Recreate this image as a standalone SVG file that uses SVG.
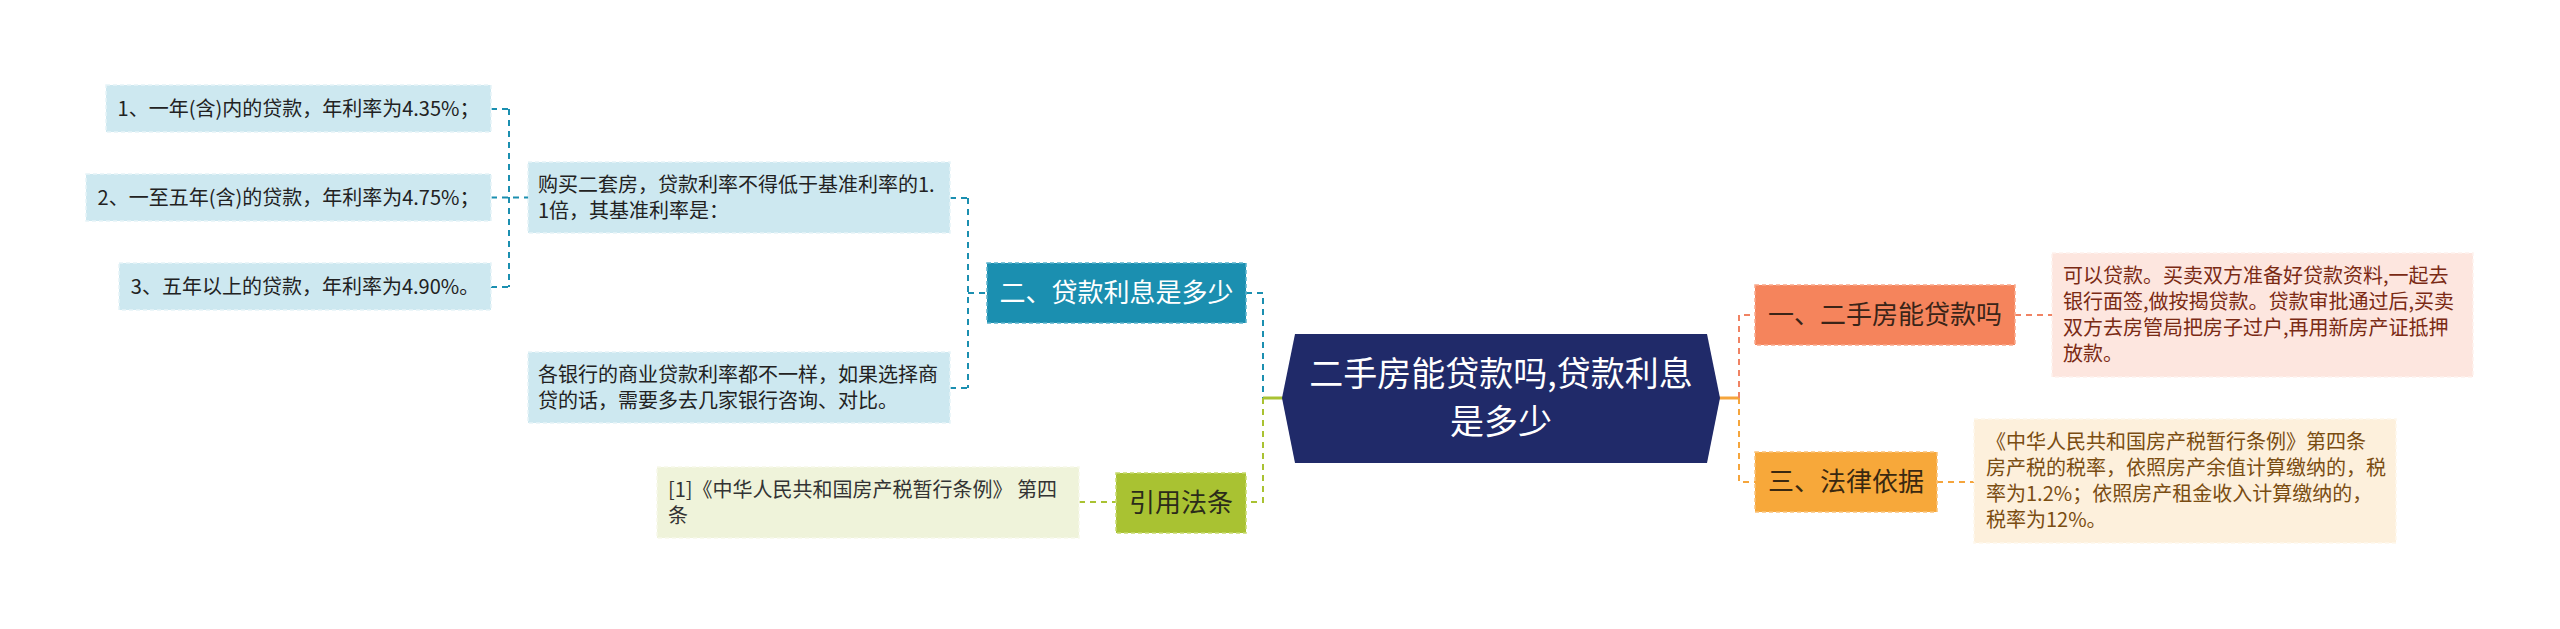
<svg xmlns="http://www.w3.org/2000/svg" width="2560" height="629" viewBox="0 0 2560 629">
<style>
text{font-family:"Noto Sans CJK SC","Noto Sans",sans-serif;}
.t20{font-size:20px;}
.t26{font-size:26px;}
.mid{text-anchor:middle;}
.c{fill:none;stroke-width:2;stroke-dasharray:6 5;}
.teal{stroke:#1b8fb0;}
.green{stroke:#a9c232;}
.coral{stroke:#f08363;}
.orange{stroke:#f5a53c;}
.lb{fill:#cde8f0;stroke:#e6f4f8;stroke-width:1.5;stroke-dasharray:4 3;}
</style>
<rect width="2560" height="629" fill="#ffffff"/>
<g id="connectors">
  <path class="c teal" d="M491 109H509M491 197.5H528M491 287H509M509 109V287"/>
  <path class="c teal" d="M950 198H968M950 388H968M968 198V388M968 293H987"/>
  <path class="c teal" d="M1246 293H1263V398"/>
  <path d="M1263 398H1283" stroke="#a9c232" stroke-width="3" fill="none"/>
  <path class="c green" d="M1263 398V502H1246"/>
  <path class="c green" d="M1079 502H1116"/>
  <path d="M1719 398H1739" stroke="#f5a53c" stroke-width="3" fill="none"/>
  <path class="c coral" d="M1739 398V315H1755"/>
  <path class="c orange" d="M1739 398V482H1755"/>
  <path class="c coral" d="M2015 315H2052"/>
  <path class="c orange" d="M1937 482H1974"/>
</g>
<g id="center">
  <polygon points="1295,334 1707,334 1720,398 1707,463 1295,463 1282,398" fill="#202a69"/>
  <text x="1501" y="386" font-size="34" fill="#ffffff" text-anchor="middle">二手房能贷款吗,贷款利息</text>
  <text x="1501" y="434" font-size="34" fill="#ffffff" text-anchor="middle">是多少</text>
</g>
<g id="n-daikuan-lixi">
  <rect x="987" y="263" width="259" height="60" fill="#1b8fb0" stroke="#5ab3cc" stroke-width="1.5" stroke-dasharray="4 3"/>
  <text class="t26 mid" x="1116.5" y="302" fill="#ffffff">二、贷款利息是多少</text>
</g>
<g id="n-goumai">
  <rect class="lb" x="528" y="162" width="422" height="71"/>
  <text class="t20" x="538" y="192" fill="#222">购买二套房，贷款利率不得低于基准利率的1.</text>
  <text class="t20" x="538" y="218" fill="#222">1倍，其基准利率是：</text>
</g>
<g id="n-gehang">
  <rect class="lb" x="528" y="352" width="422" height="71"/>
  <text class="t20" x="538" y="382" fill="#222">各银行的商业贷款利率都不一样，如果选择商</text>
  <text class="t20" x="538" y="408" fill="#222">贷的话，需要多去几家银行咨询、对比。</text>
</g>
<g id="n-rate1">
  <rect class="lb" x="106" y="85" width="385" height="47"/>
  <text class="t20 mid" x="298.5" y="115.5" fill="#222">1、一年(含)内的贷款，年利率为4.35%；</text>
</g>
<g id="n-rate2">
  <rect class="lb" x="86" y="174" width="405" height="47"/>
  <text class="t20 mid" x="288.5" y="204.5" fill="#222">2、一至五年(含)的贷款，年利率为4.75%；</text>
</g>
<g id="n-rate3">
  <rect class="lb" x="119" y="263" width="372" height="47"/>
  <text class="t20 mid" x="305" y="293.5" fill="#222">3、五年以上的贷款，年利率为4.90%。</text>
</g>
<g id="n-yinyong">
  <rect x="1116" y="473" width="130" height="60" fill="#a9c232" stroke="#c6da6c" stroke-width="1.5" stroke-dasharray="4 3"/>
  <text class="t26 mid" x="1181" y="512" fill="#2b2b1a">引用法条</text>
</g>
<g id="n-ref">
  <rect x="657" y="467" width="422" height="71" fill="#eff3da" stroke="#f7f9ea" stroke-width="1.5" stroke-dasharray="4 3"/>
  <text class="t20" x="668" y="497" fill="#333">[1]《中华人民共和国房产税暂行条例》 第四</text>
  <text class="t20" x="668" y="523" fill="#333">条</text>
</g>
<g id="n-neng">
  <rect x="1755" y="285" width="260" height="60" fill="#f5845c" stroke="#f9a88a" stroke-width="1.5" stroke-dasharray="4 3"/>
  <text class="t26 mid" x="1885" y="324" fill="#3a2418">一、二手房能贷款吗</text>
</g>
<g id="n-keyi">
  <rect x="2052" y="253" width="421" height="124" fill="#fde6df" stroke="#fef2ee" stroke-width="1.5" stroke-dasharray="4 3"/>
  <text class="t20" x="2063" y="283" fill="#7a2a14">可以贷款。买卖双方准备好贷款资料,一起去</text>
  <text class="t20" x="2063" y="309" fill="#7a2a14">银行面签,做按揭贷款。贷款审批通过后,买卖</text>
  <text class="t20" x="2063" y="335" fill="#7a2a14">双方去房管局把房子过户,再用新房产证抵押</text>
  <text class="t20" x="2063" y="361" fill="#7a2a14">放款。</text>
</g>
<g id="n-falv">
  <rect x="1755" y="452" width="182" height="60" fill="#f7a83a" stroke="#fac278" stroke-width="1.5" stroke-dasharray="4 3"/>
  <text class="t26 mid" x="1846" y="491" fill="#3a2810">三、法律依据</text>
</g>
<g id="n-tiaoli">
  <rect x="1974" y="419" width="422" height="124" fill="#fdf0dc" stroke="#fef7ec" stroke-width="1.5" stroke-dasharray="4 3"/>
  <text class="t20" x="1986" y="449" fill="#7a4d12">《中华人民共和国房产税暂行条例》第四条</text>
  <text class="t20" x="1986" y="475" fill="#7a4d12">房产税的税率，依照房产余值计算缴纳的，税</text>
  <text class="t20" x="1986" y="501" fill="#7a4d12">率为1.2%；依照房产租金收入计算缴纳的，</text>
  <text class="t20" x="1986" y="527" fill="#7a4d12">税率为12%。</text>
</g>
</svg>
